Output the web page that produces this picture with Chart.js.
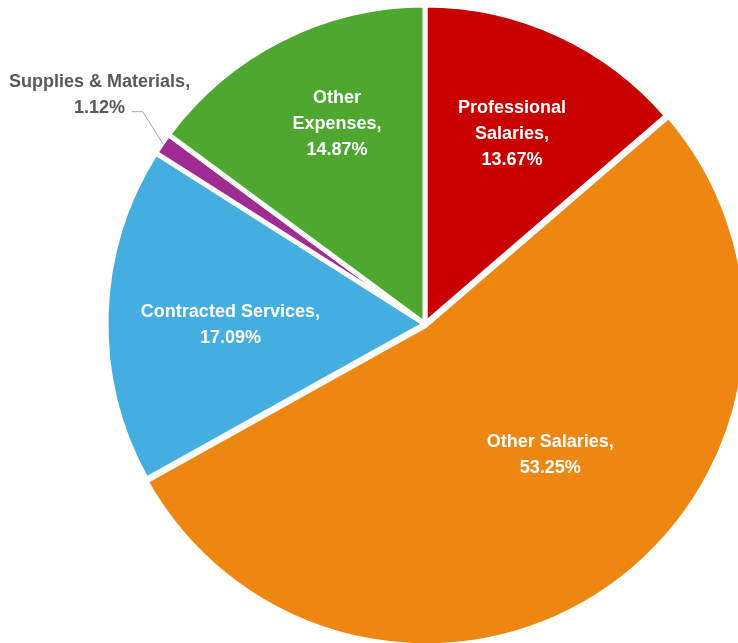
<!DOCTYPE html>
<html>
<head>
<meta charset="utf-8">
<script src="https://cdn.jsdelivr.net/npm/chart.js"></script>
<style>
  html, body { margin: 0; padding: 0; background: #fff; }
  #wrap { width: 738px; height: 643px; }
</style>
</head>
<body>
<div id="wrap"><canvas id="expensePie" width="738" height="643"></canvas></div>
<script>
  // Spending breakdown, clockwise from 12 o'clock
  const categories = [
    "Professional Salaries",
    "Other Salaries",
    "Contracted Services",
    "Supplies & Materials",
    "Other Expenses",
  ];
  const shares = [13.67, 53.25, 17.09, 1.12, 14.87];
  const sliceColors = ["#C80000", "#EE8712", "#45AEE0", "#A02B93", "#4EA72E"];
  const sliceOffsets = [0, 6, 0, 0, 0];

  const FONT = "bold 18px 'Liberation Sans Narrow', 'Arial Narrow', sans-serif";

  // Label placement per slice: radius fraction + angle nudge (deg),
  // or an outside callout with a leader line
  const labelPlacement = [
    { r: 0.655, nudge: 0, wrap: 110 },
    { r: 0.55, nudge: -9, wrap: 150 },
    { r: 0.61, nudge: -2, wrap: 200 },
    { outside: true, dx: -64, dy: -50, wrap: 200 },
    { r: 0.685, nudge: 3, wrap: 80 },
  ];

  function wrapText(ctx, text, maxWidth) {
    const words = text.split(" ");
    const lines = [];
    let line = "";
    words.forEach((w) => {
      const test = line ? line + " " + w : w;
      if (line && ctx.measureText(test).width > maxWidth) {
        lines.push(line);
        line = w;
      } else {
        line = test;
      }
    });
    if (line) lines.push(line);
    return lines;
  }

  const sliceLabels = {
    id: "sliceLabels",
    afterDatasetsDraw(chart) {
      const ctx = chart.ctx;
      const meta = chart.getDatasetMeta(0);
      const lineH = 26;
      ctx.save();
      ctx.font = FONT;
      ctx.textAlign = "center";
      ctx.textBaseline = "middle";

      meta.data.forEach((arc, i) => {
        const p = arc.getProps(["x", "y", "startAngle", "endAngle", "outerRadius"], true);
        const place = labelPlacement[i];
        const mid = (p.startAngle + p.endAngle) / 2;
        const off = sliceOffsets[i];
        const cx = p.x + Math.cos(mid) * off;
        const cy = p.y + Math.sin(mid) * off;
        const lines = wrapText(ctx, categories[i] + ",", place.wrap);
        lines.push(shares[i].toFixed(2) + "%");

        let tx, ty;
        if (place.outside) {
          // edge point of the slice, then a short bent leader line
          const ex = cx + Math.cos(mid) * (p.outerRadius - 2);
          const ey = cy + Math.sin(mid) * (p.outerRadius - 2);
          tx = ex + place.dx;
          ty = ey + place.dy;
          ctx.strokeStyle = "#A6A6A6";
          ctx.lineWidth = 1;
          ctx.beginPath();
          ctx.moveTo(ex, ey);
          ctx.lineTo(ex - 21, ey - 33);
          ctx.lineTo(ex - 32, ey - 33);
          ctx.stroke();
          ctx.fillStyle = "#595959";
        } else {
          const a = mid + (place.nudge * Math.PI) / 180;
          tx = cx + Math.cos(a) * p.outerRadius * place.r;
          ty = cy + Math.sin(a) * p.outerRadius * place.r;
          ctx.fillStyle = "#FFFFFF";
        }

        const top = ty - ((lines.length - 1) * lineH) / 2;
        lines.forEach((ln, k) => ctx.fillText(ln, tx, top + k * lineH));
      });
      ctx.restore();
    },
  };

  new Chart(document.getElementById("expensePie"), {
    type: "pie",
    data: {
      labels: categories,
      datasets: [
        {
          data: shares,
          backgroundColor: sliceColors,
          borderColor: "#FFFFFF",
          borderWidth: 5,
          offset: sliceOffsets,
        },
      ],
    },
    options: {
      responsive: false,
      animation: false,
      radius: 319,
      layout: { padding: { left: 112, right: 0, top: 5, bottom: 0 } },
      plugins: {
        legend: { display: false },
        tooltip: { enabled: false },
      },
    },
    plugins: [sliceLabels],
  });
</script>
</body>
</html>
